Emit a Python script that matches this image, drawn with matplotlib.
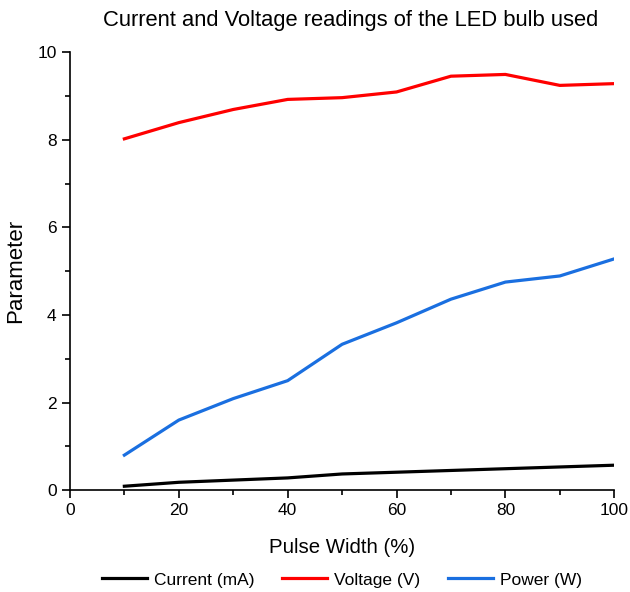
import numpy as np
import matplotlib.pyplot as plt
from matplotlib.ticker import MultipleLocator

plt.rcParams['font.family'] = ['Liberation Sans', 'DejaVu Sans']

# datos
pulse = [10, 20, 30, 40, 50, 60, 70, 80, 90, 100]
current = [0.09, 0.18, 0.23, 0.28, 0.37, 0.41, 0.45, 0.49, 0.53, 0.57]
voltage = [8.02, 8.39, 8.69, 8.92, 8.96, 9.09, 9.45, 9.49, 9.24, 9.28]
power = [0.80, 1.60, 2.09, 2.50, 3.33, 3.82, 4.36, 4.75, 4.89, 5.28]

fig = plt.figure(figsize=(6.3, 5.92), dpi=100)
ax = fig.add_axes([0.111, 0.172, 0.864, 0.740])

ax.plot(pulse, current, color="black", lw=2.3, label="Current (mA)")
ax.plot(pulse, voltage, color="#ff0000", lw=2.3, label="Voltage (V)")
ax.plot(pulse, power, color="#1a6fe0", lw=2.3, label="Power (W)")

ax.set_xlim(0, 100)
ax.set_ylim(0, 10)
ax.xaxis.set_major_locator(MultipleLocator(20))
ax.xaxis.set_minor_locator(MultipleLocator(10))
ax.yaxis.set_major_locator(MultipleLocator(2))
ax.yaxis.set_minor_locator(MultipleLocator(1))
ax.spines["top"].set_visible(False)
ax.spines["right"].set_visible(False)
for s in ("left", "bottom"):
    ax.spines[s].set_linewidth(1.2)
ax.tick_params(which="major", length=6, width=1.2, labelsize=12.5, direction="out")
ax.tick_params(which="minor", length=3.5, width=1.2, direction="out")

ax.set_xlabel("Pulse Width (%)", fontsize=14.7, labelpad=14)
ax.set_ylabel("Parameter", fontsize=16, labelpad=8)
fig.text(0.556, 0.966, "Current and Voltage readings of the LED bulb used",
         fontsize=15.8, ha="center", va="center")

ax.legend(loc="upper center", bbox_to_anchor=(0.5, -0.152), ncol=3, frameon=False,
          fontsize=12.5, handlelength=2.6, columnspacing=1.6, handletextpad=0.4)

fig.savefig("out.png", dpi=100)
